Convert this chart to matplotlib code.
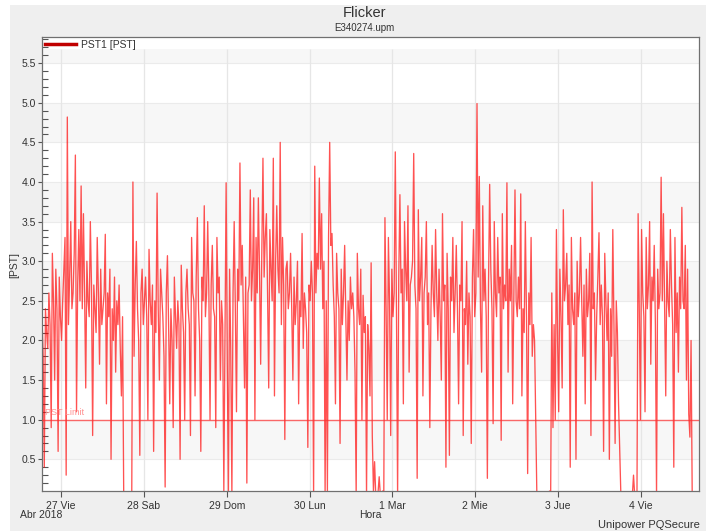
import matplotlib
matplotlib.use('Agg')
import matplotlib.pyplot as plt
from matplotlib.lines import Line2D
from matplotlib.patches import Rectangle
import numpy as np
import pandas as pd

plt.rcParams['font.family'] = ['Liberation Sans', 'DejaVu Sans']

# ---------------- data ----------------
series_start = '2018-04-26 18:30'
sample_step = '20min'
pst_values = [
    2.3, 1.8, 0.4, 2.4, 2.1, 1.9, 2.6, 2.2, 0.9, 3.1, 2.5, 1.5, 2.9, 2.4, 0.6, 2.8, 2.3, 2.0,
    2.5, 2.9, 3.3, 0.3, 4.82, 2.2, 2.8, 3.5, 2.4, 2.6, 3.1, 4.34, 1.1, 2.7, 3.4, 2.5, 3.95, 2.4,
    3.6, 2.6, 1.4, 3.0, 2.5, 2.3, 3.5, 2.7, 0.8, 2.7, 2.4, 2.1, 3.3, 2.6, 1.7, 2.9, 2.2, 2.4,
    2.6, 3.34, 1.2, 2.6, 2.3, 2.9, 0.5, 2.4, 2.0, 2.8, 1.6, 2.5, 2.2, 2.7, 1.9, 1.3, 2.3, 0.05,
    0.05, 0.03, 0.04, 0.05, 0.06, 0.04, 0.05, 4.0, 1.8, 2.7, 3.25, 2.4, 2.0, 0.55, 2.6, 2.9, 2.2, 2.5,
    2.8, 2.3, 1.0, 3.15, 2.5, 2.2, 2.7, 0.6, 2.5, 2.1, 3.86, 2.4, 1.5, 2.9, 2.6, 2.3, 1.8, 0.15,
    2.6, 3.07, 2.2, 1.2, 2.4, 2.0, 0.9, 2.8, 2.3, 1.9, 2.5, 2.2, 0.5, 2.95, 2.4, 2.1, 1.0, 2.6,
    2.9, 2.4, 2.2, 0.8, 3.3, 2.6, 2.5, 1.3, 2.8, 3.55, 2.4, 2.0, 0.6, 2.8, 2.5, 3.7, 2.3, 2.6,
    3.5, 2.6, 1.0, 2.7, 3.2, 2.4, 2.3, 0.9, 3.3, 2.6, 2.8, 1.5, 2.5, 2.2, 0.1, 2.0, 3.99, 1.7,
    0.05, 2.9, 1.9, 0.05, 2.6, 3.5, 2.4, 1.1, 2.9, 2.5, 4.24, 2.7, 3.2, 2.3, 1.4, 2.8, 0.2, 2.6,
    2.7, 3.9, 2.5, 2.9, 3.8, 1.0, 3.3, 2.6, 3.8, 2.9, 1.7, 3.1, 4.3, 2.8, 3.3, 3.6, 2.6, 1.4,
    3.4, 2.9, 2.5, 4.3, 1.3, 3.0, 3.7, 2.9, 2.6, 4.5, 2.2, 3.3, 2.7, 0.75, 2.9, 3.0, 2.4, 2.6,
    3.1, 2.4, 1.5, 2.8, 2.2, 2.5, 3.0, 1.2, 2.5, 2.3, 3.35, 1.9, 2.6, 2.4, 2.1, 0.65, 2.7, 2.5,
    3.0, 2.6, 0.05, 4.2, 2.6, 3.1, 2.9, 4.05, 2.9, 3.6, 2.4, 3.0, 0.05, 2.5, 0.1, 3.3, 4.5, 3.2,
    3.35, 2.7, 2.3, 1.2, 3.1, 2.6, 2.4, 0.7, 2.9, 2.2, 2.6, 3.2, 2.3, 1.5, 2.5, 2.0, 2.8, 2.4,
    2.6, 2.3, 1.6, 0.05, 3.1, 2.4, 2.2, 2.9, 1.0, 2.57, 2.1, 2.3, 0.05, 2.2, 1.9, 1.3, 2.98, 0.8,
    0.1, 0.47, 0.05, 0.05, 0.08, 0.28, 0.05, 0.05, 0.1, 0.05, 3.55, 2.4, 1.0, 3.3, 2.5, 0.8, 2.9, 2.3,
    2.6, 4.38, 2.4, 0.05, 2.8, 3.84, 2.6, 2.9, 1.2, 3.5, 2.9, 2.5, 3.7, 1.6, 2.7, 2.8, 3.0, 4.36,
    2.7, 2.4, 0.26, 3.65, 2.5, 2.8, 3.3, 1.3, 2.6, 2.8, 3.5, 2.2, 2.6, 0.9, 2.4, 3.2, 2.6, 2.3,
    3.4, 2.6, 2.0, 2.9, 2.3, 1.5, 3.6, 2.5, 2.7, 0.4, 3.1, 2.4, 0.55, 2.8, 2.5, 3.3, 2.1, 2.6,
    3.2, 2.4, 1.2, 2.7, 2.5, 3.5, 0.8, 2.4, 2.2, 3.0, 1.7, 2.6, 2.3, 0.7, 2.8, 3.4, 2.3, 2.6,
    4.99, 2.8, 4.07, 2.4, 1.6, 3.7, 2.5, 2.9, 2.3, 0.26, 2.7, 3.97, 2.9, 2.4, 0.95, 3.5, 2.6, 2.3,
    3.3, 2.6, 2.8, 0.74, 3.6, 2.4, 2.7, 2.5, 3.99, 1.6, 2.9, 2.5, 3.2, 1.2, 2.6, 3.9, 2.5, 2.3,
    2.8, 2.4, 3.85, 1.3, 2.4, 2.1, 3.5, 2.3, 0.32, 2.6, 2.2, 3.3, 1.8, 2.2, 2.0, 1.0, 0.05, 0.05,
    0.05, 0.04, 0.06, 0.05, 0.04, 0.05, 0.05, 0.04, 0.06, 0.1, 0.05, 2.6, 0.9, 2.2, 1.0, 3.4, 2.0, 1.1,
    2.9, 2.3, 1.4, 3.65, 2.5, 2.7, 3.1, 2.2, 2.7, 0.4, 3.3, 2.4, 2.2, 2.6, 0.5, 3.0, 2.3, 2.6,
    3.3, 2.5, 1.8, 2.7, 1.2, 2.9, 2.3, 2.5, 3.1, 0.8, 4.0, 2.4, 2.6, 1.5, 2.3, 2.8, 3.36, 2.2,
    2.7, 2.3, 0.6, 3.1, 2.5, 2.0, 2.6, 0.5, 2.4, 1.8, 3.4, 2.2, 0.7, 2.5, 2.1, 1.2, 0.6, 0.05,
    0.05, 0.03, 0.06, 0.04, 0.05, 0.06, 0.05, 0.04, 0.05, 0.05, 0.3, 0.05, 0.06, 0.05, 3.6, 2.4, 1.0, 3.4,
    2.6, 2.3, 1.1, 3.3, 2.4, 2.7, 3.5, 1.7, 2.8, 2.5, 3.2, 2.2, 0.05, 2.9, 2.4, 2.6, 4.06, 2.5,
    3.6, 2.4, 1.3, 3.0, 2.5, 2.3, 3.4, 2.7, 2.2, 0.4, 3.3, 2.1, 2.6, 1.6, 2.8, 2.4, 3.68, 2.5,
    2.4, 3.2, 1.5, 2.9, 1.07, 0.78, 2.0, 0.05, 0.05, 0.05, 0.05, 0.05,
]
day_ticks = ['2018-04-27', '2018-04-28', '2018-04-29', '2018-04-30',
             '2018-05-01', '2018-05-02', '2018-05-03', '2018-05-04']
day_labels = ['27 Vie', '28 Sab', '29 Dom', '30 Lun', '1 Mar', '2 Mie', '3 Jue', '4 Vie']
y_ticks = [0.5, 1.0, 1.5, 2.0, 2.5, 3.0, 3.5, 4.0, 4.5, 5.0, 5.5]
pst_limit = 1.0
x_start = '2018-04-26 18:30'
x_end = '2018-05-04 16:48'

# ---------------- figure ----------------
W, H = 706, 531
fig = plt.figure(figsize=(W / 100, H / 100), dpi=100)
fig.patch.set_facecolor('white')
fig.patches.append(Rectangle((10 / W, 0), 1 - 10 / W, 1 - 5 / H,
                             transform=fig.transFigure, facecolor='#efefef',
                             edgecolor='none', zorder=-10))

ax = fig.add_axes([42 / W, 1 - 491 / H, (699 - 42) / W, (491 - 37) / H])
ax.set_facecolor('white')

ymin, ymax = 0.1, 5.83
band_top = 5.68
edges = [0.1, 0.5, 1.0, 1.5, 2.0, 2.5, 3.0, 3.5, 4.0, 4.5, 5.0, 5.5, band_top]
for i in range(len(edges) - 1):
    lo, hi = edges[i], edges[i + 1]
    if round(lo * 2) % 2 == 1:
        ax.axhspan(lo, hi, color='#f7f7f7', zorder=0, lw=0)
for yv in y_ticks:
    ax.axhline(yv, color='#ebebeb', lw=0.8, zorder=0.5)

times = pd.date_range(series_start, periods=len(pst_values), freq=sample_step)
tick_times = pd.to_datetime(day_ticks)
for t in tick_times:
    ax.vlines(t, ymin, band_top, color='#e6e6e6', lw=0.9, zorder=0.6)

ax.plot(times, pst_values, color='#ff0000', lw=0.95, alpha=0.68, zorder=2)

ax.axhline(pst_limit, color='#ff3030', lw=1.0, alpha=0.7, zorder=3)
ax.text(pd.Timestamp('2018-04-26 19:30'), pst_limit + 0.04, 'PST Limit',
        color='#ff9090', fontsize=6.5, va='bottom', ha='left', zorder=3)

ax.set_xlim(pd.Timestamp(x_start), pd.Timestamp(x_end))
ax.set_ylim(ymin, ymax)

ax.set_xticks(tick_times)
ax.set_xticklabels(day_labels, fontsize=7.5, color='#333333')
ax.set_yticks(y_ticks)
ax.set_yticklabels([f'{v:.1f}' for v in y_ticks], fontsize=7.5, color='#333333')
ax.set_yticks(np.arange(0.2, 5.81, 0.1), minor=True)
ax.tick_params(axis='y', which='major', direction='out', length=3, width=0.8,
               color='#555555', pad=1.5)
ax.tick_params(axis='y', which='minor', direction='in', length=4, width=0.8,
               color='#555555')
ax.tick_params(axis='x', which='major', direction='out', length=4, width=0.8,
               color='#555555', pad=3)
for s in ax.spines.values():
    s.set_color('#707070')
    s.set_linewidth(0.9)

# legend
handle = Line2D([0], [0], color='#c00000', lw=2.5)
leg = ax.legend([handle], ['PST1 [PST]'], loc='upper left', bbox_to_anchor=(0.0, 1.0),
                frameon=False, fontsize=7.5, handlelength=3.0, handletextpad=0.5,
                borderaxespad=0.0, borderpad=0.25)
for txt in leg.get_texts():
    txt.set_color('#333333')

# texts
fig.text(364 / W, 1 - 13 / H, 'Flicker', ha='center', va='center', fontsize=10.5, color='#333333')
fig.text(364 / W, 1 - 28 / H, 'E340274.upm', ha='center', va='center', fontsize=7, color='#333333')
fig.text(14 / W, 1 - 265 / H, '[PST]', ha='center', va='center', rotation=90, fontsize=7.5, color='#333333')
fig.text(20 / W, 1 - 515 / H, 'Abr 2018', ha='left', va='center', fontsize=7.5, color='#333333')
fig.text(370 / W, 1 - 515 / H, 'Hora', ha='center', va='center', fontsize=7.5, color='#333333')
fig.text(700 / W, 1 - 525 / H, 'Unipower PQSecure', ha='right', va='center', fontsize=8, color='#333333')

fig.savefig('out.png', dpi=100, facecolor=fig.get_facecolor())
